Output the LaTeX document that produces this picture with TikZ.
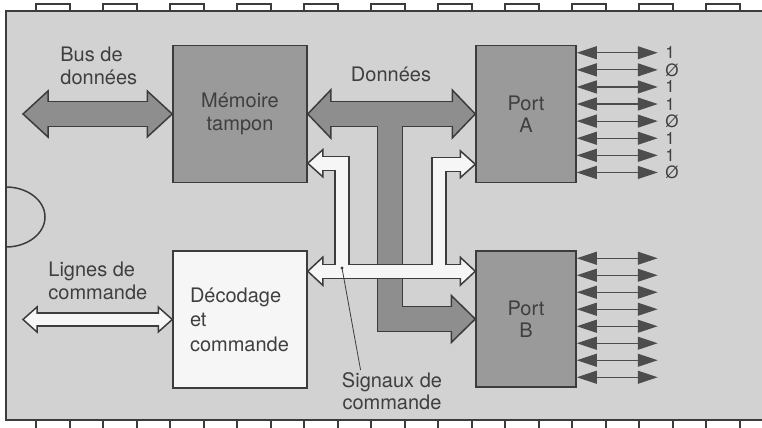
\documentclass[tikz,border=0pt]{standalone}
\usepackage{fontspec}
\setmainfont{TeX Gyre Heros}
\usetikzlibrary{arrows.meta,calc}
\definecolor{chipgray}{HTML}{D2D2D2}
\definecolor{boxgray}{HTML}{9A9A9A}
\definecolor{busgray}{HTML}{8E8E8E}
\definecolor{buswhite}{HTML}{F6F6F6}
\definecolor{inkline}{HTML}{3C3C3C}
\definecolor{pinink}{HTML}{4D4D4D}
\definecolor{textgray}{HTML}{3F3F3F}
\tikzset{
  chipbody/.style={fill=chipgray,draw=inkline,line width=0.75pt},
  chipedge/.style={draw=inkline,line width=0.75pt},
  pinbox/.style={fill=white,draw=inkline,line width=0.6pt},
  darkblock/.style={draw=inkline,fill=boxgray,line width=0.75pt,
                    align=center,inner sep=0pt,text=textgray,
                    font=\fontsize{10}{11.25}\selectfont},
  lightblock/.style={draw=inkline,fill=buswhite,line width=0.75pt,
                     align=left,inner ysep=0pt,text=textgray,
                     font=\fontsize{10}{12.25}\selectfont},
  lbl/.style={inner sep=0pt,text=textgray,font=\fontsize{10}{11.25}\selectfont},
  bitlbl/.style={inner sep=0pt,text=textgray,font=\fontsize{8.5}{9}\selectfont},
  darkout/.style={draw=inkline,line width=13.25pt},
  darkfill/.style={draw=busgray,line width=11.75pt},
  darkhead/.style={fill=busgray,draw=inkline,line width=0.75pt},
  whiteout/.style={draw=inkline,line width=7.75pt},
  whitefill/.style={draw=buswhite,line width=6.25pt},
  whitehead/.style={fill=buswhite,draw=inkline,line width=0.75pt},
  pinarrow/.style={arrows={Triangle[length=10pt,width=6.5pt]-Triangle[length=10pt,width=6.5pt]},
                   draw=pinink,fill=pinink,line width=0.6pt},
  pointer/.style={draw=inkline,line width=0.4pt}
}
% tip, direction (1 right, -1 left), length, half width
\newcommand{\bushead}[5]{\filldraw[#1] #2 -- ++({-(#3)*(#4)},{#5}) -- ++(0,{-2*(#5)}) -- cycle;}
\begin{document}
\begin{tikzpicture}[x=0.5pt,y=-0.5pt,line join=miter]
  \useasboundingbox (0,0) rectangle (762,428);
  \clip (0,0) rectangle (762,428);
  \fill[white] (0,0) rectangle (762,428);

  % pins and package
  \foreach \i in {0,...,10} {
    \draw[pinbox] ({36+67*\i},4) rectangle ++(34,7);
    \draw[pinbox] ({36+67*\i},420) rectangle ++(34,12);
  }
  \draw[chipbody] (6,11) rectangle (800,420);
  \draw[chipedge] (6,187) arc[start angle=-90,end angle=90,x radius=39,y radius=30];

  % blocks
  \node[darkblock,minimum width=67pt,minimum height=68.5pt] (mem) at (240,114) {Mémoire\\tampon};
  \node[darkblock,minimum width=50pt,minimum height=68.5pt] (portA) at (526,114) {Port\\A};
  \node[darkblock,minimum width=50pt,minimum height=68pt] (portB) at (526,319) {Port\\B};
  \node[lightblock,minimum width=67pt,minimum height=68.5pt,text width=50pt,inner xsep=8.5pt]
    (dec) at (240,319.5) {Décodage\\et\\commande};

  \coordinate (busin) at (23,114);
  \coordinate (cmdin) at (23,319.5);
  \coordinate (stemtop) at (390,114);
  \coordinate (jl) at (342,272);
  \coordinate (jr) at (439,272);
  \coordinate (memc) at ($(mem.south east)+(0,-20)$);
  \coordinate (portAc) at ($(portA.south west)+(0,-19)$);
  \coordinate (decc) at ($(dec.north east)+(0,21)$);
  \coordinate (portBc) at ($(portB.north west)+(0,21)$);

  % data bus
  \draw[darkout,shorten <=8pt,shorten >=8pt] (busin) -- (mem.west);
  \bushead{darkhead}{(busin)}{-1}{25}{23}
  \bushead{darkhead}{(mem.west)}{1}{25}{23}
  \draw[darkfill,shorten <=10pt,shorten >=10pt] (busin) -- (mem.west);

  \draw[darkout,shorten <=8pt,shorten >=8pt] (mem.east) -- (portA.west);
  \draw[darkout,shorten >=8pt] (stemtop) |- (portB.west);
  \bushead{darkhead}{(mem.east)}{-1}{23}{24}
  \bushead{darkhead}{(portA.west)}{1}{23}{24}
  \bushead{darkhead}{(portB.west)}{1}{24}{23.5}
  \draw[darkfill,shorten <=9.5pt,shorten >=9.5pt] (mem.east) -- (portA.west);
  \draw[darkfill,shorten >=9.5pt] (stemtop) |- (portB.west);

  % control lines
  \draw[whiteout,line width=7.25pt,shorten <=4.5pt,shorten >=4.5pt] (cmdin) -- (dec.west);
  \bushead{whitehead}{(cmdin)}{-1}{14}{12.5}
  \bushead{whitehead}{(dec.west)}{1}{14}{12.5}
  \draw[whitefill,line width=5.75pt,shorten <=6pt,shorten >=6pt] (cmdin) -- (dec.west);

  \draw[whiteout,shorten <=5pt] (memc) -| (jl);
  \draw[whiteout,shorten <=5pt] (portAc) -| (jr);
  \draw[whiteout,shorten <=5pt,shorten >=5pt] (decc) -- (portBc);
  \bushead{whitehead}{(memc)}{-1}{15}{13.5}
  \bushead{whitehead}{(portAc)}{1}{15}{13.5}
  \bushead{whitehead}{(decc)}{-1}{15}{14}
  \bushead{whitehead}{(portBc)}{1}{15}{14}
  \draw[whitefill,shorten <=6pt] (memc) -| (jl);
  \draw[whitefill,shorten <=6pt] (portAc) -| (jr);
  \draw[whitefill,shorten <=6pt,shorten >=6pt] (decc) -- (portBc);

  % port lines
  \foreach \i/\v in {0/1,1/Ø,2/1,3/1,4/Ø,5/1,6/1,7/Ø}
    \draw[pinarrow] ($(portA.north east)+(0,{8+17.1*\i})$) -- ++(81,0)
      node[bitlbl,right,inner xsep=3.5pt] (bitA\i) {\v};
  \foreach \i in {0,...,7}
    \draw[pinarrow] ($(portB.north east)+(0,{8+17*\i})$) -- ++(81,0);

  % labels
  \node[lbl,anchor=north west,align=left] (buslbl) at (60,47) {Bus de\\données};
  \node[lbl,anchor=base] (donlbl) at (391,82) {Données};
  \node[lbl,anchor=north west,align=left] (cmdlbl) at (48,262) {Lignes de\\commande};
  \node[lbl,anchor=north,align=center] (siglbl) at (392,372) {Signaux de\\commande};
  \coordinate (sigdot) at (342,268);
  \fill[inkline] (sigdot) circle (1.6);
  \draw[pointer] (sigdot) -- ($(siglbl.north west)+(19,-2)$);
\end{tikzpicture}
\end{document}
